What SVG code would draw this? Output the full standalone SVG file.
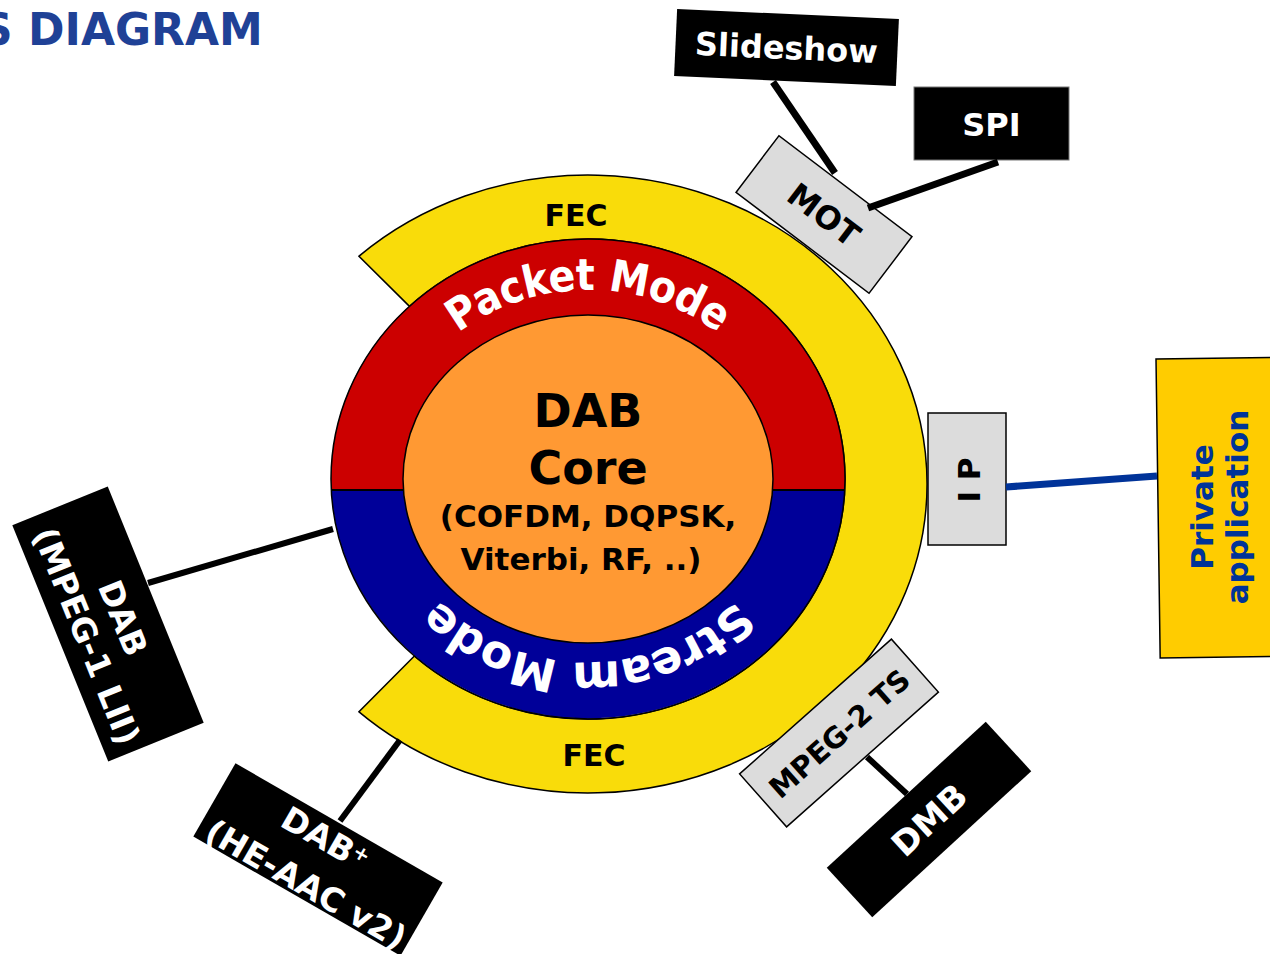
<svg xmlns="http://www.w3.org/2000/svg" width="1270" height="954" viewBox="0 0 1270 954">
<defs>
<style>
text{font-family:"DejaVu Sans",Verdana,sans-serif;font-weight:bold;}
.arc{font-family:"DejaVu Sans Condensed","DejaVu Sans",sans-serif;font-stretch:condensed;}
.wt{fill:#ffffff}
.bk{fill:#000000}
.blk{fill:#000000}
.gbox{fill:#dcdcdc;stroke:#000000;stroke-width:1.5}
.edge{stroke:#000000;fill:none;stroke-linecap:butt}
.mid{text-anchor:middle}
</style>
<path id="pmPath" d="M 383,479 A 205,189 0 0 1 793,479"/>
<path id="smPath" d="M 786,479 A 198,183 0 0 1 390,479"/>
</defs>
<rect width="1270" height="954" fill="#ffffff"/>
<text x="-19" y="45" font-size="44" fill="#1f4196">S DIAGRAM</text>

<g id="core">
<path d="M 359,256.2 A 339,309 0 1 1 359,711.8 L 414.4,656 A 257,240 0 1 0 409.5,306.4 Z" fill="#f9dc0a" stroke="#000" stroke-width="1.5"/>
<path d="M 331.3,490 A 257,240 0 1 1 844.7,490 Z" fill="#cc0000"/>
<path d="M 844.7,490 A 257,240 0 0 1 331.3,490 Z" fill="#000099"/>
<ellipse cx="588" cy="479" rx="257" ry="240" fill="none" stroke="#000" stroke-width="1.5"/>
<line x1="331" y1="490" x2="845" y2="490" stroke="#000" stroke-width="2"/>
<ellipse cx="588" cy="479" rx="185" ry="164" fill="#ff9933" stroke="#000" stroke-width="1.5"/>
<text class="wt arc" font-size="44" letter-spacing="-0.6"><textPath href="#pmPath" startOffset="50%" text-anchor="middle">Packet Mode</textPath></text>
<text class="wt" font-size="46" letter-spacing="-1.5"><textPath href="#smPath" startOffset="50%" text-anchor="middle">Stream Mode</textPath></text>
<text class="bk mid" x="576" y="226" font-size="30">FEC</text>
<text class="bk mid" x="594" y="766" font-size="30">FEC</text>
<text class="bk mid" x="588" y="427" font-size="46">DAB</text>
<text class="bk mid" x="588" y="484" font-size="46">Core</text>
<text class="bk mid" x="588" y="527" font-size="31">(COFDM, DQPSK,</text>
<text class="bk mid" x="581" y="570" font-size="31">Viterbi, RF, ..)</text>
</g>

<g id="mot" transform="translate(824,214.5) rotate(37.2)">
<rect x="-83.5" y="-35.5" width="167" height="71" class="gbox"/>
<text class="bk mid" x="0" y="11.5" font-size="32">MOT</text>
</g>

<g id="slideshow" transform="translate(786.5,47.5) rotate(2.6)">
<rect x="-111" y="-33.5" width="222" height="67" class="blk"/>
<text class="wt mid" x="0" y="11.5" font-size="32">Slideshow</text>
</g>

<g id="spi">
<rect x="914" y="87" width="155" height="73" class="blk" stroke="#777" stroke-width="1"/>
<text class="wt mid" x="991.5" y="136" font-size="32">SPI</text>
</g>

<g id="ip">
<rect x="928" y="413" width="78" height="132" class="gbox"/>
<text class="bk mid" transform="translate(980,480) rotate(-90)" font-size="31">I P</text>
</g>

<g id="private">
<rect transform="rotate(-0.8 1156 359)" x="1156" y="359" width="140" height="299" fill="#ffcc00" stroke="#000" stroke-width="1.5"/>
<text class="mid" fill="#003399" transform="translate(1213,507) rotate(-90)" font-size="31">Private</text>
<text class="mid" fill="#003399" transform="translate(1248,507) rotate(-90)" font-size="31">application</text>
</g>

<g id="dab" transform="translate(108,624) rotate(67.9)">
<rect x="-127.5" y="-51.5" width="255" height="103" class="blk"/>
<text class="wt mid" x="0" y="-4.5" font-size="33">DAB</text>
<text class="wt mid" x="3" y="36" font-size="33">(MPEG-1 LII)</text>
</g>

<g id="dabplus" transform="translate(318,859.5) rotate(29.9)">
<rect x="-119.5" y="-42.3" width="239" height="84.6" class="blk"/>
<text class="wt mid" x="-4" y="-10" font-size="33">DAB<tspan font-size="20" dy="-10">+</tspan></text>
<text class="wt mid" x="2" y="39" font-size="33">(HE-AAC v2)</text>
</g>

<g id="mpeg2ts" transform="translate(839,733) rotate(-41.6)">
<rect x="-101.5" y="-35.4" width="203" height="70.8" class="gbox"/>
<text class="bk mid" x="0" y="11" font-size="29">MPEG-2 TS</text>
</g>

<g id="dmb" transform="translate(929,819.5) rotate(-42.6)">
<rect x="-108" y="-33.6" width="216" height="67.2" class="blk"/>
<text class="wt mid" x="0" y="12.4" font-size="34">DMB</text>
</g>

<g id="connectors">
<line class="edge" x1="773" y1="82" x2="835" y2="173" stroke-width="7"/>
<line class="edge" x1="998" y1="162" x2="868" y2="208" stroke-width="7"/>
<line class="edge" x1="1006" y1="487" x2="1157" y2="476" stroke-width="7" style="stroke:#003399"/>
<line class="edge" x1="148" y1="583" x2="333" y2="529" stroke-width="6"/>
<line class="edge" x1="340" y1="821" x2="400" y2="740" stroke-width="6"/>
<line class="edge" x1="867" y1="757" x2="907" y2="794" stroke-width="6"/>
</g>
</svg>
